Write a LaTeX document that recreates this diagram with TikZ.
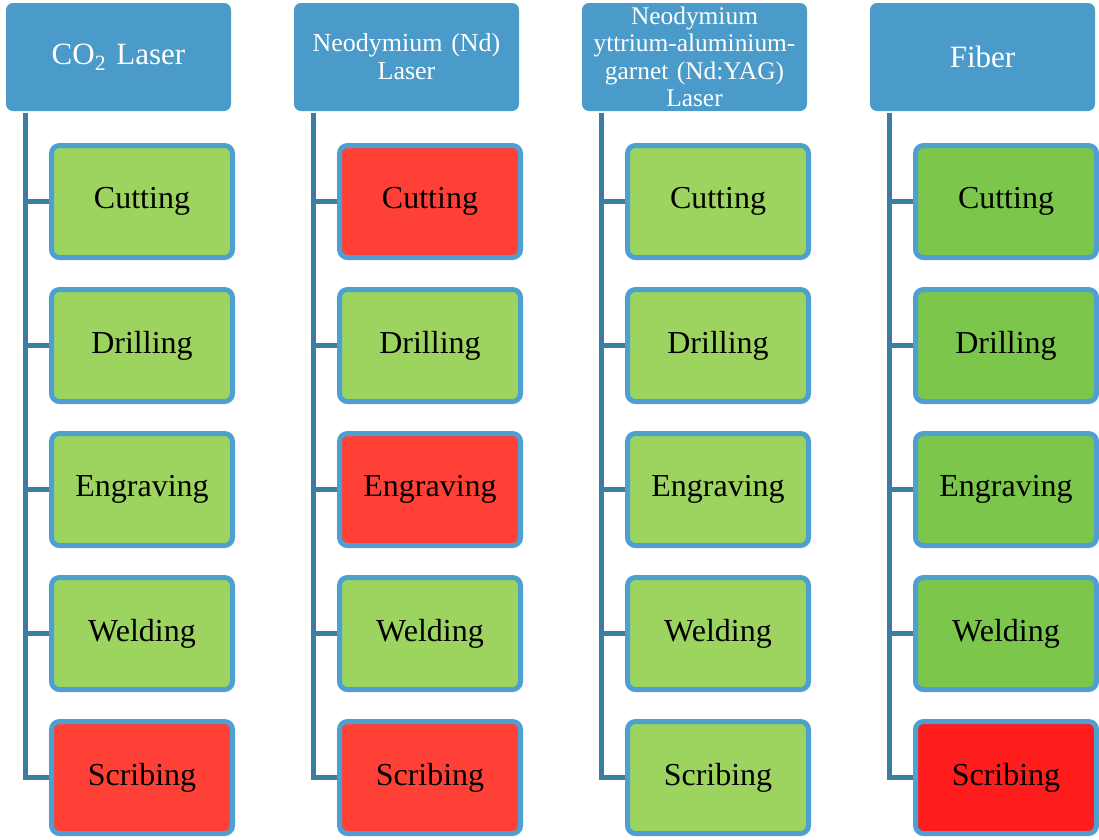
\documentclass[tikz,border=0pt]{standalone}
\usepackage{fontspec}
\setmainfont{Liberation Serif}
\usetikzlibrary{backgrounds}
\definecolor{hdr}{HTML}{4A9BCA}
\definecolor{bord}{HTML}{4DA0CF}
\definecolor{conn}{HTML}{3C7DA5}
\definecolor{lgreen}{HTML}{9DD35F}
\definecolor{lred}{HTML}{FF4036}
\definecolor{fgreen}{HTML}{7BC64B}
\definecolor{fred}{HTML}{FF1C1C}
\begin{document}
\begin{tikzpicture}[x=1pt,y=1pt,
  hdrbox/.style={draw=none,fill=hdr,rounded corners=7pt,minimum width=225pt,minimum height=108pt,
    text=white,align=center,inner sep=2pt,text width=221pt},
  childbox/.style={draw=bord,line width=5pt,rounded corners=8pt,minimum width=181pt,minimum height=112pt,
    font=\fontsize{32}{38}\selectfont,text=black},
  connline/.style={draw=conn,line width=5pt}]
\useasboundingbox (0,0) rectangle (1099,-839);
% headers
\node[hdrbox,font=\fontsize{31}{36}\selectfont] (h1) at (118.5,-57) {CO\textsubscript{2} Laser};
\node[hdrbox,font=\fontsize{26}{28}\selectfont] (h2) at (406.5,-57) {Neodymium (Nd)\\Laser};
\node[hdrbox,font=\fontsize{25.4}{27.5}\selectfont] (h3) at (694.5,-57) {Neodymium\\yttrium-aluminium-\\garnet (Nd:YAG)\\Laser};
\node[hdrbox,font=\fontsize{31}{36}\selectfont] (h4) at (982.5,-57) {Fiber};
% trunk tops
\coordinate (t1) at (25,-113);
\coordinate (t2) at (313,-113);
\coordinate (t3) at (601,-113);
\coordinate (t4) at (889,-113);
% children
\foreach \c/\cx/\fa/\fb/\fc/\fd/\fe in {
  1/142/lgreen/lgreen/lgreen/lgreen/lred,
  2/430/lred/lgreen/lred/lgreen/lred,
  3/718/lgreen/lgreen/lgreen/lgreen/lgreen,
  4/1006/fgreen/fgreen/fgreen/fgreen/fred}{
  \node[childbox,fill=\fa] (c\c1) at (\cx,-201.5) {Cutting};
  \node[childbox,fill=\fb] (c\c2) at (\cx,-345.5) {Drilling};
  \node[childbox,fill=\fc] (c\c3) at (\cx,-489.5) {Engraving};
  \node[childbox,fill=\fd] (c\c4) at (\cx,-633.5) {Welding};
  \node[childbox,fill=\fe] (c\c5) at (\cx,-777.5) {Scribing};
}
% connectors
\begin{scope}[on background layer]
\foreach \c in {1,2,3,4}{
  \foreach \r in {1,2,3,4,5}{
    \draw[connline] (t\c) |- (c\c\r.west);
  }
}
\end{scope}
\end{tikzpicture}
\end{document}
